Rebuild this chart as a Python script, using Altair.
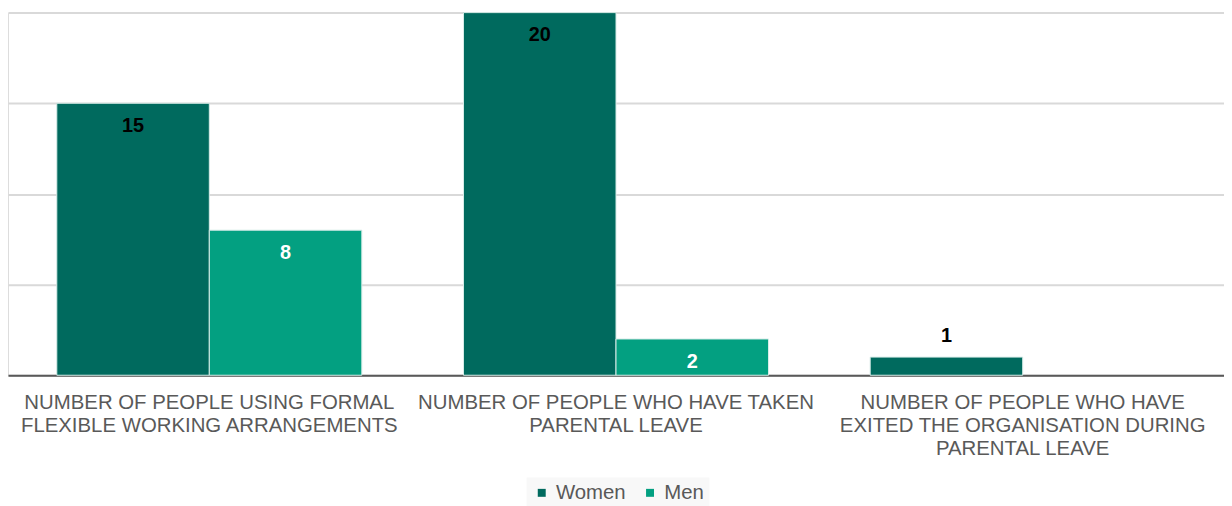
import altair as alt
import pandas as pd

categories = [
    "NUMBER OF PEOPLE USING FORMAL|FLEXIBLE WORKING ARRANGEMENTS",
    "NUMBER OF PEOPLE WHO HAVE TAKEN|PARENTAL LEAVE",
    "NUMBER OF PEOPLE WHO HAVE|EXITED THE ORGANISATION  DURING|PARENTAL LEAVE",
]
women = [15, 20, 1]
men = [8, 2, 0]
series = ["Women", "Men"]
colors = ["#006A5E", "#03A081"]

rows = []
for c, w, m in zip(categories, women, men):
    rows.append({"Category": c, "Gender": "Women", "Value": w})
    rows.append({"Category": c, "Gender": "Men", "Value": m})
df = pd.DataFrame(rows)

FONT = "Liberation Sans"

x = alt.X(
    "Category:N",
    sort=categories,
    title=None,
    scale=alt.Scale(paddingInner=0.25, paddingOuter=0.12),
    axis=alt.Axis(
        labelExpr="split(datum.label, '|')",
        labelAngle=0,
        labelFontSize=20.5,
        labelColor="#595959",
        labelFont=FONT,
        labelLimit=0,
        labelPadding=17,
        labelLineHeight=23.5,
        labelBaseline="top",
        ticks=False,
        domainColor="#595959",
        domainWidth=2,
        grid=False,
    ),
)
y = alt.Y(
    "Value:Q",
    scale=alt.Scale(domain=[0, 20], nice=False),
    axis=alt.Axis(
        labels=False,
        ticks=False,
        domain=False,
        title=None,
        grid=True,
        gridColor="#d9d9d9",
        gridWidth=2,
        values=[0, 5, 10, 15, 20],
        labelPadding=0,
    ),
)
xo = alt.XOffset("Gender:N", sort=series)

bars = alt.Chart(df).transform_filter("datum.Value > 0").mark_bar(
    stroke="#d8ece8", strokeWidth=1
).encode(
    x=x,
    y=y,
    xOffset=xo,
    color=alt.Color(
        "Gender:N",
        sort=series,
        scale=alt.Scale(domain=series, range=colors),
        legend=alt.Legend(
            title=None,
            orient="none",
            legendX=522,
            legendY=468,
            direction="horizontal",
            symbolType="square",
            symbolSize=64,
            symbolStrokeWidth=0,
            labelFontSize=20.5,
            labelFont=FONT,
            labelColor="#595959",
            columnPadding=14,
            labelOffset=4,
            fillColor="#f8f8f8",
            padding=5,
        ),
    ),
)

text_color = alt.condition(
    "datum.Gender == 'Women'", alt.value("black"), alt.value("white")
)

inside = alt.Chart(df).transform_filter("datum.Value >= 2").mark_text(
    baseline="middle", dy=23, fontSize=20, fontWeight="bold", font=FONT
).encode(x=x, y=y, xOffset=xo, text="Value:Q", color=text_color)

outside = alt.Chart(df).transform_filter(
    "datum.Value > 0 && datum.Value < 2"
).mark_text(
    baseline="middle", dy=-21, fontSize=20, fontWeight="bold", font=FONT, color="black"
).encode(x=x, y=y, xOffset=xo, text="Value:Q")

chart = (
    alt.layer(bars, inside, outside)
    .properties(width=1224, height=365, padding={"left": 0, "top": 2, "right": 0, "bottom": 0})
    .configure_view(stroke=None)
    .configure(background="white")
)

chart.save("out.html", embed_options={"renderer": "svg", "actions": False})
